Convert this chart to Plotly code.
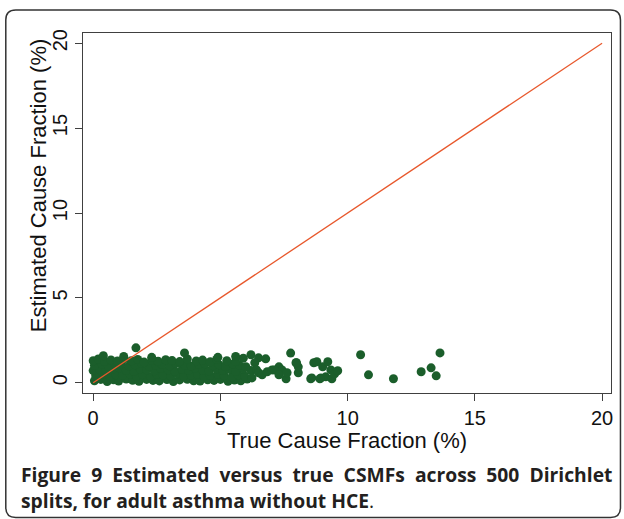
import plotly.graph_objects as go

# ---- data ----
true_cf = [
    # bottom row
    0.05, 0.3, 0.55, 0.8, 1.0, 1.3, 1.55, 1.8, 2.1, 2.35, 2.6, 2.9, 3.15, 3.4, 3.7, 3.95, 4.2, 4.5, 4.75, 5.0, 5.3, 5.55, 5.8, 6.05,
    # row ~0.45
    0.1, 0.4, 0.65, 0.9, 1.15, 1.45, 1.7, 1.95, 2.25, 2.5, 2.75, 3.05, 3.3, 3.55, 3.85, 4.1, 4.35, 4.6, 4.9, 5.15, 5.45, 5.7, 5.95,
    # row ~0.75
    0.0, 0.25, 0.5, 0.75, 1.05, 1.3, 1.6, 1.85, 2.1, 2.4, 2.65, 2.95, 3.2, 3.5, 3.75, 4.0, 4.3, 4.55, 4.85, 5.1, 5.35, 5.6, 5.9, 6.2,
    # row ~1.05
    0.05, 0.35, 0.6, 0.85, 1.1, 1.4, 1.65, 1.9, 2.2, 2.45, 2.7, 3.0, 3.25, 3.6, 3.85, 4.15, 4.4, 4.7, 4.95, 5.2, 5.5, 5.75, 6.0,
    # row ~1.3
    0.0, 0.2, 0.45, 0.7, 0.95, 1.2, 1.5, 1.75, 2.0, 2.3, 2.55, 2.85, 3.1, 3.4, 3.7, 4.05, 4.3, 4.6, 4.85, 5.25, 5.6, 5.9,
    # upper bumps
    0.4, 1.2, 1.68, 2.3, 3.59, 4.9, 5.6,
    # 6 - 10 region
    6.2, 6.5, 6.78, 6.35, 6.42, 6.5, 6.24, 6.64, 6.84, 7.03, 7.3, 7.42, 7.76, 7.99, 8.06, 8.06, 8.67, 8.79, 8.59, 8.95, 9.14, 9.34,
    7.11, 7.3, 7.58, 7.62, 7.97, 8.91, 9.02, 9.38, 9.49, 9.61, 8.55, 9.22,
    # isolated right points
    10.51, 10.82, 11.80, 12.89, 13.28, 13.48, 13.63,
]
est_cf = [
    0.12, 0.2, 0.08, 0.18, 0.1, 0.22, 0.15, 0.09, 0.2, 0.14, 0.11, 0.19, 0.08, 0.17, 0.21, 0.12, 0.1, 0.18, 0.14, 0.2, 0.09, 0.16, 0.12, 0.22,
    0.42, 0.5, 0.38, 0.47, 0.44, 0.52, 0.4, 0.48, 0.36, 0.5, 0.45, 0.41, 0.53, 0.39, 0.46, 0.5, 0.37, 0.44, 0.49, 0.42, 0.35, 0.47, 0.4,
    0.72, 0.8, 0.7, 0.78, 0.85, 0.74, 0.68, 0.82, 0.76, 0.71, 0.84, 0.77, 0.69, 0.8, 0.73, 0.86, 0.75, 0.7, 0.81, 0.74, 0.79, 0.67, 0.83, 0.72,
    1.02, 1.1, 0.98, 1.08, 1.12, 1.0, 1.06, 1.15, 0.97, 1.05, 1.1, 1.0, 1.13, 1.04, 0.99, 1.08, 1.12, 1.01, 1.07, 0.96, 1.1, 1.03, 0.95,
    1.3, 1.4, 1.25, 1.35, 1.28, 1.42, 1.3, 1.38, 1.22, 1.33, 1.27, 1.36, 1.31, 1.25, 1.4, 1.29, 1.34, 1.24, 1.37, 1.3, 1.26, 1.45,
    1.6, 1.55, 2.06, 1.5, 1.76, 1.5, 1.55,
    1.65, 1.47, 1.41, 1.18, 0.76, 0.59, 0.29, 0.47, 0.65, 0.76, 0.94, 0.76, 1.75, 1.18, 0.59, 0.94, 1.18, 1.24, 0.29, 0.29, 0.35, 0.76,
    0.76, 0.47, 0.24, 0.59, 1.18, 0.24, 0.94, 0.24, 0.53, 0.71, 0.24, 1.24,
    1.65, 0.47, 0.24, 0.65, 0.88, 0.41, 1.76,
]
line_x = [0, 20]
line_y = [0, 20]
x_ticks = [0, 5, 10, 15, 20]
y_ticks = [0, 5, 10, 15, 20]
caption_line1 = ["Figure", "9", "Estimated", "versus", "true", "CSMFs", "across", "500", "Dirichlet"]
caption_line2 = "splits, for adult asthma without HCE"

# pixel geometry -> paper helpers
L, R, T, B = 83, 613, 33, 393
W, H = 624, 519
def px(x):
    return (x - L) / (R - L)
def py(y):
    return (B - y) / (B - T)

fig = go.Figure()
fig.add_trace(go.Scatter(
    x=true_cf, y=est_cf, mode="markers",
    marker=dict(size=9, color="#1b5e2b", line=dict(width=0)),
    showlegend=False, hoverinfo="skip",
))
fig.add_trace(go.Scatter(
    x=line_x, y=line_y, mode="lines",
    line=dict(color="#e8582c", width=1.3),
    showlegend=False, hoverinfo="skip",
))

title_font = dict(family="Liberation Sans, Arial, sans-serif", size=22, color="#111")
axis_common = dict(
    showgrid=False, zeroline=False,
    showline=True, linecolor="#404040", linewidth=1, mirror=True,
    ticks="outside", ticklen=7, tickcolor="#404040", tickwidth=1,
    tickfont=dict(family="Liberation Sans, Arial, sans-serif", size=20, color="#111"),
)
fig.update_xaxes(range=[-0.4, 20.35], tickvals=x_ticks, **axis_common)
fig.update_yaxes(range=[-0.6, 20.6], tickvals=y_ticks, tickangle=-90, **axis_common)
fig.add_annotation(text="True Cause Fraction (%)", xref="paper", yref="paper",
                   x=px(348), y=py(440), xanchor="center", yanchor="middle",
                   showarrow=False, font=title_font)
fig.add_annotation(text="Estimated Cause Fraction (%)", xref="paper", yref="paper",
                   x=px(38), y=py(186), xanchor="center", yanchor="middle",
                   textangle=-90, showarrow=False, font=title_font)

# outer rounded frame
r = 10
x0, x1, y0, y1 = 5.5, 622.5, 10, 517.5
path = (f"M {px(x0)},{py(y1 - r)} L {px(x0)},{py(y0 + r)} "
        f"Q {px(x0)},{py(y0)} {px(x0 + r)},{py(y0)} "
        f"L {px(x1 - r)},{py(y0)} Q {px(x1)},{py(y0)} {px(x1)},{py(y0 + r)} "
        f"L {px(x1)},{py(y1 - r)} Q {px(x1)},{py(y1)} {px(x1 - r)},{py(y1)} "
        f"L {px(x0 + r)},{py(y1)} Q {px(x0)},{py(y1)} {px(x0)},{py(y1 - r)} Z")
fig.add_shape(type="path", path=path, xref="paper", yref="paper",
              line=dict(color="#333333", width=1.5), layer="above")

cap_font = dict(family="Open Sans, sans-serif", size=19.3, color="#231f20")
fig.add_annotation(text="<b>" + "&nbsp;&nbsp;".join(caption_line1) + "</b>",
                   xref="paper", yref="paper", x=px(19), y=py(474), xanchor="left", yanchor="middle",
                   showarrow=False, font=cap_font)
fig.add_annotation(text="<b>" + caption_line2 + "</b>.",
                   xref="paper", yref="paper", x=px(19), y=py(500), xanchor="left", yanchor="middle",
                   showarrow=False, font=cap_font)

fig.update_layout(
    width=W, height=H,
    margin=dict(l=L, r=W - R, t=T, b=H - B),
    paper_bgcolor="white", plot_bgcolor="white",
)
fig.write_html("out.html")
